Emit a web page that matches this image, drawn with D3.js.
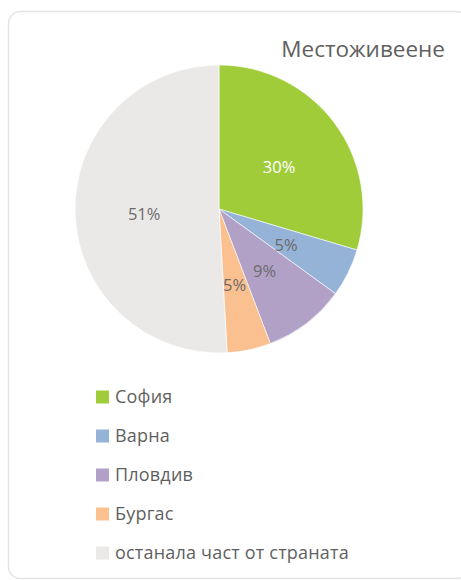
<!DOCTYPE html>
<html>
<head>
<meta charset="utf-8">
<script src="https://cdn.jsdelivr.net/npm/d3@7/dist/d3.min.js"></script>
<style>
  html, body { margin: 0; padding: 0; background: #fff; }
  svg { display: block; font-family: "Open Sans", "Noto Sans", sans-serif; }
</style>
</head>
<body>
<div id="chart"></div>
<script>
// Pie of place of residence, Excel-like styling

const title = "Местоживеене";
const categories = ["София", "Варна", "Пловдив", "Бургас", "останала част от страната"];
const values = [29.6, 5.4, 9.2, 4.9, 50.9];
const colors = ["#a0cc3a", "#95b3d7", "#b2a1c7", "#fac090", "#ebe9e8"];
const labelColors = ["#ffffff", "#6b6b6b", "#6b6b6b", "#6b6b6b", "#6b6b6b"];

const W = 461, H = 580;
const cx = 219, cy = 209, r = 144;

const data = categories.map((c, i) => ({ name: c, value: values[i], color: colors[i], lab: labelColors[i] }));

const svg = d3.select("#chart").append("svg").attr("width", W).attr("height", H);

// outer chart frame
svg.append("rect")
  .attr("x", 8.5).attr("y", 11.5).attr("width", 460).attr("height", 567)
  .attr("rx", 12).attr("fill", "#fff").attr("stroke", "#e4e4e4").attr("stroke-width", 1.5);

svg.append("text")
  .attr("x", 445).attr("y", 57).attr("text-anchor", "end")
  .attr("font-size", 22.5).attr("fill", "#5f5f5f")
  .text(title);

const pie = d3.pie().value(d => d.value).sort(null);
const arcs = pie(data);
const arc = d3.arc().innerRadius(0).outerRadius(r);
const labelArc = d3.arc().innerRadius(r * 0.52).outerRadius(r * 0.52);

const g = svg.append("g").attr("transform", `translate(${cx},${cy})`);
g.selectAll("path").data(arcs).join("path")
  .attr("d", arc)
  .attr("fill", d => d.data.color)
  .attr("stroke", "#fff").attr("stroke-width", 0.6);

g.selectAll("text").data(arcs).join("text")
  .attr("transform", d => `translate(${labelArc.centroid(d)})`)
  .attr("text-anchor", "middle").attr("dy", "0.52em")
  .attr("font-size", 16.5).attr("fill", d => d.data.lab)
  .text(d => Math.round(d.data.value) + "%");

// legend
const ly = d3.scalePoint().domain(categories).range([397, 553]);
const leg = svg.append("g").selectAll("g").data(data).join("g")
  .attr("transform", d => `translate(96,${ly(d.name)})`);
leg.append("rect").attr("x", 0).attr("y", -6.5).attr("width", 13).attr("height", 13)
  .attr("fill", d => d.color);
leg.append("text").attr("x", 19).attr("dy", "0.36em")
  .attr("font-size", 18).attr("letter-spacing", 0.2).attr("fill", "#5f5f5f")
  .text(d => d.name);
</script>
</body>
</html>
